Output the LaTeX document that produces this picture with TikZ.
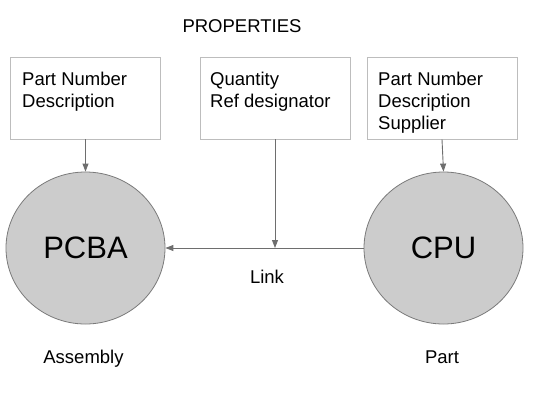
\documentclass[tikz,border=0pt]{standalone}
\usepackage{fontspec}
\setmainfont{Liberation Sans}
\usetikzlibrary{shapes.geometric,arrows.meta}
\definecolor{boxline}{HTML}{BDBDBD}
\definecolor{conn}{HTML}{6E6E6E}
\definecolor{circfill}{HTML}{CCCCCC}
\definecolor{circline}{HTML}{7A7A7A}
\tikzset{
  propbox/.style={draw=boxline, line width=0.9pt, rectangle, minimum width=150pt, minimum height=82pt, inner sep=0pt},
  proptext/.style={anchor=north west, inner sep=0pt, align=left, font=\fontsize{18.5}{22}\selectfont},
  entity/.style={draw=circline, fill=circfill, line width=0.8pt, ellipse, minimum width=159pt, minimum height=152pt, inner sep=0pt, font=\fontsize{31}{36}\selectfont},
  plain/.style={inner sep=0pt, font=\fontsize{18.5}{22}\selectfont},
  connector/.style={draw=conn, line width=0.9pt, -{Triangle[length=8pt,width=6pt]}}
}
\begin{document}
\begin{tikzpicture}[x=1pt,y=-1pt]
\useasboundingbox (0,0) rectangle (535,402);
\node[plain, anchor=base] (props) at (242,32) {PROPERTIES};
\node[propbox] (b1) at (85.5,98) {};
\node[propbox] (b2) at (275,98) {};
\node[propbox] (b3) at (442,98) {};
\node[proptext] (t1) at (22,72) {Part Number\\Description};
\node[proptext] (t2) at (210,72) {Quantity\\Ref designator};
\node[proptext] (t3) at (378,72) {Part Number\\Description\\Supplier};
\node[entity] (pcba) at (85.5,248) {PCBA};
\node[entity] (cpu) at (443.5,248) {CPU};
\coordinate (lm) at (275,248);
\draw[connector] (b1.south) -- (pcba.north);
\draw[connector] (b3.south) -- (cpu.north);
\draw[connector] (cpu.west) -- (pcba.east);
\draw[connector] (b2.south) -- (lm);
\node[plain, anchor=base] (link) at (267,283) {Link};
\node[plain, anchor=base] (asm) at (83.5,363) {Assembly};
\node[plain, anchor=base] (part) at (442,363) {Part};
\end{tikzpicture}
\end{document}
